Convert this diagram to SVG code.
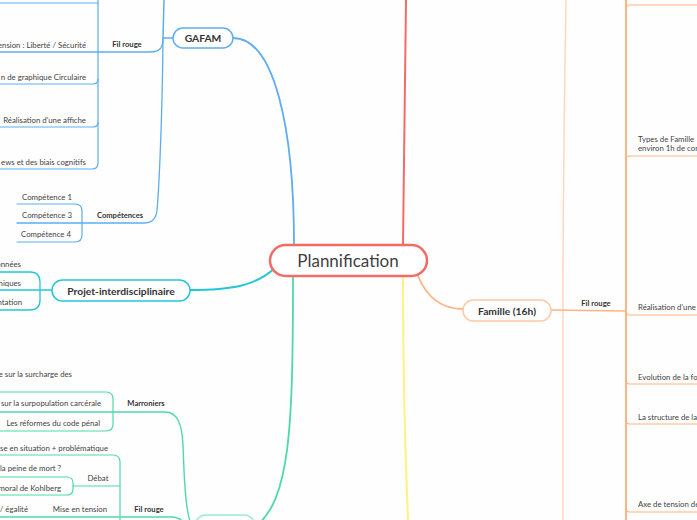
<svg xmlns="http://www.w3.org/2000/svg" width="697" height="520" viewBox="0 0 697 520">
<style>
  text { font-family: Lato, "Liberation Sans", sans-serif; fill: #3f3f3f; }
  .t { font-size: 7.8px; }
  .e { text-anchor: end; }
  .b { font-size: 7.6px; font-weight: bold; text-anchor: middle; fill: #333; }
  .nt { font-size: 10.3px; font-weight: bold; text-anchor: middle; fill: #333; }
  .l { fill: none; stroke-linecap: round; stroke-linejoin: round; }
  .blue { stroke: #5DADEF; }
  .cyan { stroke: #22C7D6; }
  .green { stroke: #4FD9AA; }
  .org { stroke: #FFB582; }
  .node { fill: #ffffff; }
</style>
<rect width="697" height="520" fill="#fffefe"/>
<g id="connectors">
  <path class="l" d="M403,244 L406,0" stroke="#F36B66" stroke-width="2"/>
  <path class="l" d="M403,276 C403,380 405,450 408,520" stroke="#FFF27F" stroke-width="2"/>
  <path class="l blue" d="M294,244 C294,130 275,38 233,38" stroke-width="1.8"/>
  <path class="l cyan" d="M190,290 C232,290 255,286 275,268" stroke-width="2"/>
  <path class="l green" d="M293,276 C293,430 290,500 255,527" stroke-width="1.8"/>
  <path class="l" d="M418,276 C428,300 445,309 463,309" stroke="#FFB582" stroke-width="1.8"/>
  <path class="l" d="M566,0 C564,120 563,200 563,300 L563,520" stroke="#FFD7BD" stroke-width="1.5"/>

  <path class="l blue" d="M173,38 H163 L164,0" stroke-width="1.5"/>
  <path class="l blue" d="M163,38 C163,48 160,52 150,52 H0" stroke-width="1.3"/>
  <path class="l blue" d="M163,38 C162,140 158,200 157,210 Q156,223 144,223 H17" stroke-width="1.3"/>
  <path class="l blue" d="M98,0 V163 Q98,169 92,169 H0" stroke-width="1.2"/>
  <path class="l blue" d="M0,3 H98" stroke-width="1.2"/>
  <path class="l blue" d="M0,84 H93 Q98,84 98,79" stroke-width="1.2"/>
  <path class="l blue" d="M0,127 H93 Q98,127 98,122" stroke-width="1.2"/>
  <path class="l blue" d="M17,204 H75 Q82,204 82,211 V235 Q82,242 75,242 H17" stroke-width="1.2"/>

  <path class="l cyan" d="M0,290 H52" stroke-width="1.3"/>
  <path class="l cyan" d="M0,272 H30 Q40,272 40,282 V300 Q40,310 30,310 H0" stroke-width="1.3"/>

  <path class="l green" d="M195,527 C185,527 184,470 183,445 C182,425 178,412 165,412 H0" stroke-width="1.4"/>
  <path class="l green" d="M195,527 C186,527 183,517 172,517 H0" stroke-width="1.4"/>
  <path class="l green" d="M0,392 H106 Q113,392 113,399 V424 Q113,431 106,431 H0" stroke-width="1.2"/>
  <path class="l green" d="M0,455 H113 Q120,455 120,462 V520" stroke-width="1.2"/>
  <path class="l green" d="M73,486 H120" stroke-width="1.2"/>
  <path class="l green" d="M0,477 H67 Q73,477 73,483 V489 Q73,495 67,495 H0" stroke-width="1.2"/>

  <path class="l org" d="M551,310 L626,311" stroke-width="1.5"/>
  <path class="l org" d="M626,0 V520" stroke-width="2"/>
  <path class="l org" d="M626,9 Q626,5 630,5 H697" stroke-width="1.2"/>
  <path class="l org" d="M626,160 Q626,156 630,156 H697" stroke-width="1.2"/>
  <path class="l org" d="M626,311 Q626,315 630,315 H697" stroke-width="1.2"/>
  <path class="l org" d="M626,380 Q626,384 630,384 H697" stroke-width="1.2"/>
  <path class="l org" d="M626,420 Q626,424 630,424 H697" stroke-width="1.2"/>
  <path class="l org" d="M626,508 Q626,512 630,512 H697" stroke-width="1.2"/>
</g>

<g id="center">
  <rect x="270" y="245" width="157" height="31" rx="15.5" fill="#ffffff" stroke="#F26B65" stroke-width="2.5"/>
  <text x="348" y="267" font-size="17" text-anchor="middle" fill="#333">Plannification</text>
</g>

<g id="gafam">
  <rect class="node" x="173" y="28" width="60" height="20" rx="10" stroke="#5DADEF" stroke-width="1.5"/>
  <text class="nt" x="203" y="41.5">GAFAM</text>
</g>
<g id="gafam-filrouge">
  <text class="b" x="127" y="47">Fil rouge</text>
  <text class="t e" x="86" y="47.5">ension : Liberté / Sécurité</text>
  <text class="t e" x="86" y="80">n de graphique Circulaire</text>
  <text class="t e" x="86" y="122.5">Réalisation d'une affiche</text>
  <text class="t e" x="86" y="165">ews et des biais cognitifs</text>
</g>
<g id="gafam-competences">
  <text class="b" x="120" y="218">Compétences</text>
  <text class="t" x="22" y="200">Compétence 1</text>
  <text class="t" x="22" y="218">Compétence 3</text>
  <text class="t" x="21" y="237">Compétence 4</text>
</g>

<g id="projet">
  <rect class="node" x="52" y="280" width="138" height="21" rx="10.5" stroke="#22C7D6" stroke-width="1.5"/>
  <text class="nt" x="121" y="294.5">Projet-interdisciplinaire</text>
  <text class="t e" x="21" y="266.5">onnées</text>
  <text class="t e" x="21" y="285.5">hiques</text>
  <text class="t e" x="22" y="305">ntation</text>
</g>

<g id="green-node">
  <rect class="node" x="195" y="515" width="60" height="24" rx="11" stroke="#9BEBD0" stroke-width="1.5"/>
</g>
<g id="marroniers">
  <text class="b" x="146" y="406">Marroniers</text>
  <text class="t e" x="72" y="376.5">e sur la surcharge des</text>
  <text class="t e" x="101" y="406">sur la surpopulation carcérale</text>
  <text class="t e" x="100" y="425.5">Les réformes du code pénal</text>
</g>
<g id="green-filrouge">
  <text class="b" x="149" y="512">Fil rouge</text>
  <text class="t e" x="108" y="450.5">se en situation + problématique</text>
  <text class="t" x="98" y="480.5" text-anchor="middle">Débat</text>
  <text class="t e" x="61" y="470.5">la peine de mort ?</text>
  <text class="t e" x="61" y="490.5">moral de Kohlberg</text>
  <text class="t" x="80" y="511.5" text-anchor="middle">Mise en tension</text>
  <text class="t e" x="28" y="511.5">/ égalité</text>
</g>

<g id="famille">
  <rect class="node" x="463" y="300" width="88" height="21" rx="10.5" stroke="#FFC9A3" stroke-width="1.5"/>
  <text class="nt" x="507" y="314.5">Famille (16h)</text>
</g>
<g id="famille-filrouge">
  <text class="b" x="596" y="306">Fil rouge</text>
  <text class="t" x="638" y="142">Types de Famille</text>
  <text class="t" x="638" y="151">environ 1h de con</text>
  <text class="t" x="638" y="309.5">Réalisation d'une</text>
  <text class="t" x="638" y="379.5">Evolution de la  fo</text>
  <text class="t" x="638" y="419.5">La structure de la</text>
  <text class="t" x="638" y="506.5">Axe de tension de</text>
</g>
</svg>
